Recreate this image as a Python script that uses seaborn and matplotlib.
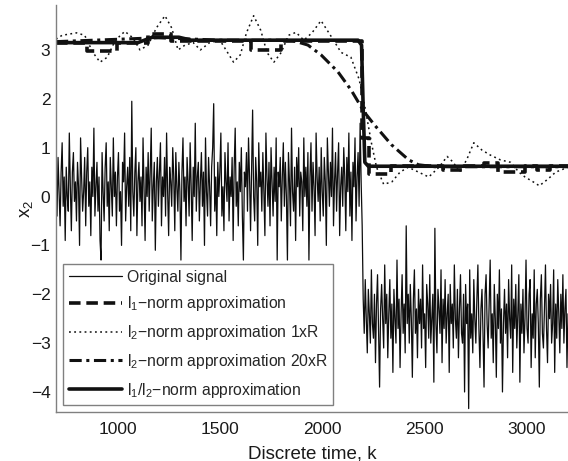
import numpy as np
import matplotlib
matplotlib.use('Agg')
import matplotlib.pyplot as plt
import seaborn as sns

# ---- data ----
# original noisy signal, one value every 5 samples
k_before = np.arange(700, 2200, 5)
sig_before = [
    0.3, -0.4, 0.8, 0.1, -0.6, 0.5, 1.1, -0.2, 0.4, -0.9,
    0.6, 0.0, -0.3, 1.3, 0.2, -0.7, 0.5, 0.9, -0.1, 0.3,
    -0.5, 0.7, 0.2, -1.0, 1.2, 0.4, -0.3, 0.1, 0.8, -0.6,
    0.5, 1.0, -0.2, 0.3, -0.8, 0.6, 0.0, 1.4, -0.4, 0.2,
    0.7, -0.3, 0.4, -0.9, -1.3, 0.9, 0.1, -0.5, 0.6, 1.1,
    -0.2, 0.3, -0.7, 0.8, 0.2, -0.4, 1.2, 0.0, 0.5, -0.6,
    0.4, 0.9, -0.3, 0.1, -1.0, 0.7, 0.3, 1.3, -0.5, 0.2,
    0.6, -0.2, 0.8, -0.7, 1.95, 0.1, -0.4, 0.5, 1.0, -0.8,
    0.3, 0.7, -0.1, 0.4, -0.6, 1.2, 0.2, -0.9, 0.6, 0.0,
    0.9, -0.3, 0.5, 1.4, -0.5, 0.2, 0.7, -1.1, 0.3, 0.8,
    -0.2, 0.5, 1.1, -0.6, 0.4, 0.0, 0.8, -0.4, 1.3, 0.1,
    -0.8, 0.6, 0.3, -0.2, 1.0, 0.4, -0.7, 0.9, 0.2, -0.3,
    0.7, 0.1, -1.3, 0.5, 1.2, -0.1, 0.4, -0.6, 0.8, 0.3,
    -0.4, 1.1, 0.2, -0.9, 0.6, 0.0, 1.5, -0.3, 0.4, 0.7,
    -0.5, 0.3, 0.9, -0.2, 0.5, -1.0, 1.2, 0.1, -0.4, 0.8,
    0.2, -0.6, 0.6, 1.0, 1.9, -0.3, 0.4, -0.8, 0.7, 0.0,
    0.5, 1.3, -0.4, 0.2, -0.7, 0.9, 0.3, -0.1, 1.1, -0.5,
    0.4, 0.0, 0.8, -0.9, 0.6, 1.4, -0.2, 0.3, -0.6, 0.7,
    0.1, 1.0, -0.4, -1.3, 0.5, 0.2, 0.9, -0.3, 1.2, 0.4,
    -0.7, 0.6, 1.77, 0.0, -0.5, 0.8, 0.3, -1.0, 1.1, 0.2,
    0.5, -0.3, 0.9, 0.1, -0.8, 1.3, 0.4, -0.2, 0.7, -0.6,
    1.0, 0.3, -0.4, 0.6, -0.1, 1.2, -1.3, 0.5, 0.2, 0.8,
    -0.5, 0.4, 1.1, -0.2, 0.7, 0.0, -1.3, 0.9, 0.3, -0.6,
    1.4, 0.1, -0.3, 0.6, -0.9, 0.8, 0.2, 1.0, -0.4, 0.5,
    0.3, -0.7, 1.2, 0.0, 0.6, -0.2, 0.9, -1.3, 0.4, 1.1,
    -0.3, 0.7, 0.2, -0.8, 1.3, 0.4, -0.1, 0.6, -0.5, 1.0,
    0.1, -0.4, 0.8, 0.3, -1.0, 1.2, 0.5, -0.2, 0.7, 0.0,
    1.4, -0.6, 0.3, 0.9, -0.3, 0.5, 1.1, -0.8, 0.2, 0.6,
    -0.2, 1.0, 0.4, -0.7, 0.8, 0.1, 1.3, -0.4, 0.5, -0.9,
    0.7, 0.2, 1.2, -0.5, 0.4, 0.9, -0.2, 1.5, 0.3, -0.6,
]
k_after = np.arange(2200, 3205, 5)
sig_after = [
    -2.1, -2.8, -1.7, -2.5, -3.2, -1.9, -2.4, -3.0, -1.5, -2.6,
    -2.9, -2.0, -3.4, -2.2, -1.6, -2.7, -3.9, -2.3, -1.8, -2.5,
    -3.1, -1.4, -2.6, -2.0, -3.3, -2.4, -1.7, -2.9, -2.2, -3.6,
    -1.9, -2.5, -3.0, -1.3, -2.7, -2.1, -3.5, -2.4, -1.6, -2.8,
    -2.2, -3.2, -0.6, -2.6, -2.0, -3.0, -1.8, -2.5, -3.7, -2.1,
    -1.5, -2.8, -2.3, -3.3, -1.9, -2.6, -2.1, -3.1, -1.4, -2.7,
    -2.4, -3.5, -1.8, -2.2, -2.9, -1.6, -3.0, -2.5, -2.0, -3.8,
    -0.65, -2.6, -3.2, -1.9, -2.3, -2.8, -1.5, -3.4, -2.1, -2.7,
    -1.7, -3.0, -2.4, -2.0, -3.6, -1.8, -2.6, -2.2, -3.1, -1.4,
    -2.5, -2.9, -1.9, -3.3, -2.3, -1.6, -2.8, -3.0, -2.0, -4.0,
    -1.8, -2.6, -2.2, -4.34, -1.5, -2.9, -2.4, -3.2, -1.7, -2.5,
    -3.0, -2.1, -1.4, -2.7, -3.5, -2.3, -1.9, -2.8, -3.9, -2.0,
    -1.6, -2.6, -3.1, -2.2, -1.3, -2.9, -2.4, -3.4, -1.8, -2.5,
    -3.7, -2.0, -2.7, -1.5, -3.0, -2.3, -4.0, -2.6, -1.9, -2.8,
    -2.2, -3.3, -1.7, -2.5, -2.9, -1.4, -3.6, -2.1, -2.7, -1.8,
    -3.1, -2.4, -1.6, -3.8, -2.2, -2.8, -1.9, -3.2, -2.5, -1.3,
    -2.7, -3.0, -2.0, -1.7, -3.5, -2.4, -2.9, -1.5, -3.3, -2.2,
    -1.9, -2.6, -3.9, -2.1, -1.6, -2.8, -3.1, -2.3, -1.4, -2.7,
    -3.4, -2.0, -2.5, -1.8, -3.0, -2.6, -1.5, -3.6, -2.2, -2.9,
    -1.7, -2.4, -3.2, -2.0, -2.7, -1.6, -3.0, -2.3, -1.9, -3.5,
    -2.4,
]

# l1-norm approximation (piecewise constant, start of each piece)
l1_k = [700, 850, 1000, 1150, 1260, 1650, 1800, 2195, 2230, 2335, 2590, 2690,
        2790, 2860, 2990, 3050, 3110, 3200]
l1_y = [3.15, 2.98, 3.15, 3.33, 3.18, 3.0, 3.18, 1.2, 0.47, 0.62, 0.55, 0.62,
        0.69, 0.5, 0.62, 0.55, 0.62, 0.62]

# l2-norm approximation 1xR
l2a_k = [700, 730, 800, 840, 880, 915, 950, 990, 1036, 1075, 1110, 1150, 1190,
         1232, 1265, 1296, 1330, 1370, 1405, 1450, 1500, 1530, 1567, 1600,
         1630, 1665, 1700, 1730, 1764, 1800, 1835, 1872, 1910, 1950, 1994,
         2040, 2092, 2140, 2180, 2210, 2240, 2265, 2300, 2340, 2380, 2420,
         2470, 2520, 2570, 2610, 2640, 2670, 2705, 2740, 2780, 2820, 2870,
         2920, 2960, 2990, 3030, 3060, 3100, 3140, 3200]
l2a_y = [3.22, 3.3, 3.35, 3.3, 2.95, 2.75, 2.85, 3.2, 3.38, 3.25, 3.0, 3.1, 3.45,
         3.7, 3.45, 3.0, 3.1, 3.15, 3.0, 3.15, 3.2, 3.0, 2.75, 2.9,
         3.35, 3.7, 3.4, 2.95, 2.75, 2.95, 3.3, 3.36, 3.2, 3.35, 3.6,
         3.3, 2.95, 2.85, 2.4, 1.8, 1.1, 0.6, 0.25, 0.3, 0.5, 0.6,
         0.5, 0.4, 0.6, 0.82, 0.7, 0.5, 0.75, 1.1, 0.95, 0.85, 0.75,
         0.7, 0.5, 0.4, 0.3, 0.22, 0.35, 0.5, 0.6]

# l2-norm approximation 20xR
l2b_k = [700, 1200, 1500, 1850, 1930, 1994, 2077, 2141, 2205, 2254, 2338, 2422,
         2470, 2550, 3200]
l2b_y = [3.17, 3.25, 3.2, 3.2, 3.1, 2.9, 2.55, 2.18, 1.73, 1.47, 1.06, 0.75,
         0.65, 0.61, 0.61]

# l1/l2-norm approximation
l12_k = [700, 1100, 1170, 1300, 1360, 2175, 2192, 2200, 2208, 2225, 3200]
l12_y = [3.15, 3.15, 3.26, 3.26, 3.2, 3.2, 3.1, 1.8, 0.7, 0.62, 0.62]

labels = ['Original signal',
          'l$_1$\u2212norm approximation',
          'l$_2$\u2212norm approximation 1xR',
          'l$_2$\u2212norm approximation 20xR',
          'l$_1$/l$_2$\u2212norm approximation']

# ---- plotting ----
sns.set_theme(style='white')
plt.rcParams['font.family'] = ['Liberation Sans', 'DejaVu Sans']
plt.rcParams['mathtext.default'] = 'regular'
plt.rcParams['xtick.direction'] = 'in'
plt.rcParams['ytick.direction'] = 'in'

fig = plt.figure(figsize=(5.68, 4.61), dpi=100)
ax = fig.add_axes([56 / 568, 1 - 412 / 461, 512 / 568, 407 / 461])

k_sig = np.concatenate([k_before, k_after])
sig = np.concatenate([sig_before, sig_after])

sns.lineplot(x=k_sig, y=sig, ax=ax, color='#0d0d0d', lw=0.9,
             estimator=None, sort=False, label=labels[0])
sns.lineplot(x=l1_k, y=l1_y, ax=ax, color='#111111', lw=2.6,
             linestyle=(0, (3.2, 1.6)), drawstyle='steps-post',
             estimator=None, sort=False, label=labels[1])
sns.lineplot(x=l2a_k, y=l2a_y, ax=ax, color='#111111', lw=1.1,
             linestyle=(0, (1.2, 2.2)),
             estimator=None, sort=False, label=labels[2])
sns.lineplot(x=l2b_k, y=l2b_y, ax=ax, color='#111111', lw=2.2,
             linestyle=(0, (4, 1.5, 1, 1.5)),
             estimator=None, sort=False, label=labels[3])
sns.lineplot(x=l12_k, y=l12_y, ax=ax, color='#111111', lw=2.6,
             estimator=None, sort=False, label=labels[4])

ax.set_xlim(700, 3200)
ax.set_ylim(-4.41, 3.92)
ax.set_xticks([1000, 1500, 2000, 2500, 3000])
ax.set_yticks([-4, -3, -2, -1, 0, 1, 2, 3])
ax.tick_params(axis='both', labelsize=12.5, length=4, width=0.8,
               color='#808080', labelcolor='#1a1a1a')
ax.tick_params(axis='x', pad=7)
ax.tick_params(axis='y', pad=4)
for side in ['top', 'right']:
    ax.spines[side].set_visible(False)
for side in ['left', 'bottom']:
    ax.spines[side].set_color('#808080')
    ax.spines[side].set_linewidth(1.0)

ax.set_xlabel('Discrete time, k', fontsize=13.5, color='#1a1a1a', labelpad=6)
ax.set_ylabel('x$_2$', fontsize=13.5, color='#1a1a1a', labelpad=-3)

leg = ax.legend(loc='lower left', bbox_to_anchor=(0.014, 0.017),
                borderaxespad=0, fontsize=11.3, handlelength=3.4,
                handletextpad=0.3, labelspacing=0.62, borderpad=0.35,
                fancybox=False, framealpha=1, edgecolor='#808080')
leg.get_frame().set_linewidth(1.0)

fig.savefig('out.png', dpi=100)
